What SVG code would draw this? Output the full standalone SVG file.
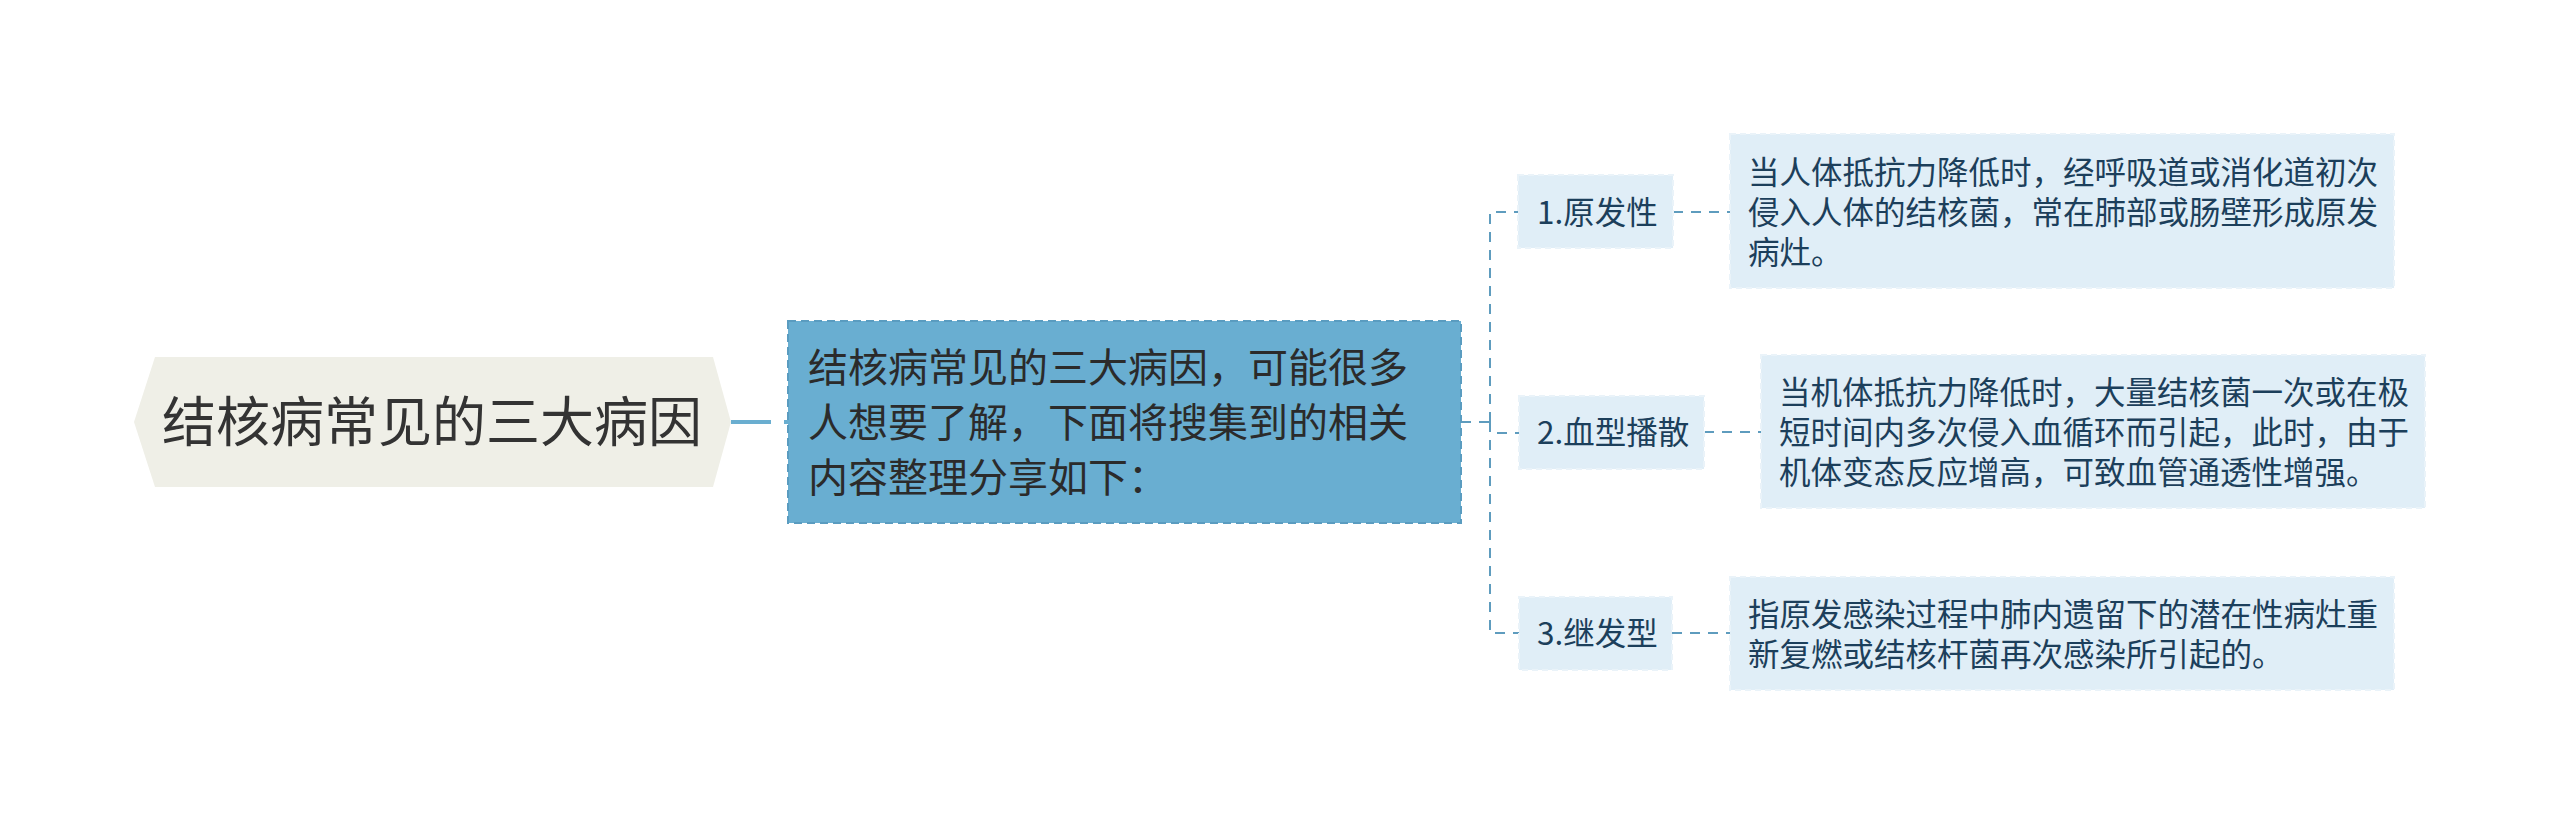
<svg xmlns="http://www.w3.org/2000/svg" width="2560" height="825" viewBox="0 0 2560 825">
<style>
  text { font-family: "Noto Sans CJK SC", "Noto Sans", sans-serif; }
  .root-text { font-size: 54px; fill: #333333; }
  .main-text { font-size: 40px; fill: #2b2b2b; }
  .sub-text { font-size: 31.5px; fill: #1c3f5b; }
  .sub-box { fill: #e0eef7; stroke: #eaf3f9; stroke-width: 2; stroke-dasharray: 6 4; }
  .conn { fill: none; stroke: #5e9cbe; stroke-width: 2; stroke-dasharray: 10 8; }
</style>
<rect width="2560" height="825" fill="#ffffff"/>
<g id="connectors">
  <path d="M731,422 H788" fill="none" stroke="#6aaed0" stroke-width="4" stroke-dasharray="40 13"/>
  <path class="conn" d="M1461,422 H1490"/>
  <path class="conn" d="M1490,422 V212 H1518"/>
  <path class="conn" d="M1490,422 V433 H1519"/>
  <path class="conn" d="M1490,422 V633 H1519"/>
  <path class="conn" d="M1673,212 H1730"/>
  <path class="conn" d="M1704,432 H1761"/>
  <path class="conn" d="M1672,633 H1730"/>
</g>
<g id="root">
  <polygon points="134,422 155,357 713,357 731,422 713,487 155,487" fill="#efefe7"/>
  <text class="root-text" x="432" y="442" text-anchor="middle">结核病常见的三大病因</text>
</g>
<g id="main">
  <rect x="788" y="321" width="673" height="202" fill="#69aed1" stroke="#5a9cc0" stroke-width="2" stroke-dasharray="8 5"/>
  <text class="main-text" x="808" y="382">结核病常见的三大病因，可能很多</text>
  <text class="main-text" x="808" y="437">人想要了解，下面将搜集到的相关</text>
  <text class="main-text" x="808" y="492">内容整理分享如下：</text>
</g>
<g id="node1">
  <rect class="sub-box" x="1518" y="175" width="155" height="73"/>
  <text class="sub-text" x="1537" y="224">1.原发性</text>
</g>
<g id="desc1">
  <rect class="sub-box" x="1730" y="134" width="664" height="154"/>
  <text class="sub-text" x="1748" y="184">当人体抵抗力降低时，经呼吸道或消化道初次</text>
  <text class="sub-text" x="1748" y="224">侵入人体的结核菌，常在肺部或肠壁形成原发</text>
  <text class="sub-text" x="1748" y="264">病灶。</text>
</g>
<g id="node2">
  <rect class="sub-box" x="1519" y="396" width="185" height="73"/>
  <text class="sub-text" x="1537" y="444">2.血型播散</text>
</g>
<g id="desc2">
  <rect class="sub-box" x="1761" y="355" width="664" height="153"/>
  <text class="sub-text" x="1779" y="404">当机体抵抗力降低时，大量结核菌一次或在极</text>
  <text class="sub-text" x="1779" y="444">短时间内多次侵入血循环而引起，此时，由于</text>
  <text class="sub-text" x="1779" y="484">机体变态反应增高，可致血管通透性增强。</text>
</g>
<g id="node3">
  <rect class="sub-box" x="1519" y="597" width="153" height="73"/>
  <text class="sub-text" x="1537" y="645">3.继发型</text>
</g>
<g id="desc3">
  <rect class="sub-box" x="1730" y="577" width="664" height="113"/>
  <text class="sub-text" x="1748" y="626">指原发感染过程中肺内遗留下的潜在性病灶重</text>
  <text class="sub-text" x="1748" y="666">新复燃或结核杆菌再次感染所引起的。</text>
</g>
</svg>
